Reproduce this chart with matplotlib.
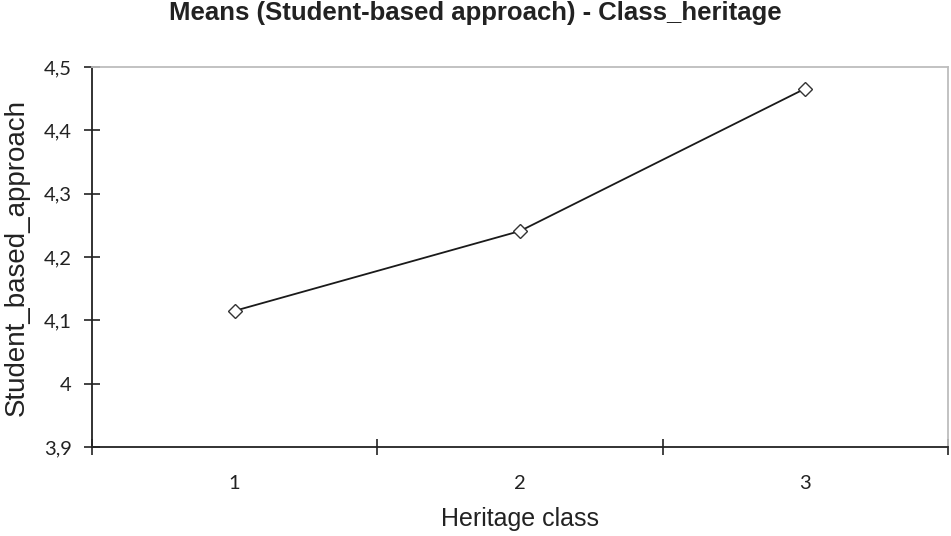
import matplotlib
matplotlib.use("Agg")
import matplotlib.pyplot as plt
from matplotlib.ticker import FuncFormatter, FixedLocator, NullFormatter

categories = ["1", "2", "3"]
means = [4.115, 4.241, 4.466]
yticks = [3.9, 4.0, 4.1, 4.2, 4.3, 4.4, 4.5]

W, H = 951, 536
fig = plt.figure(figsize=(W/100, H/100), dpi=100)
ax = fig.add_axes([92/W, 1-447/H, (948-92)/W, (447-67)/H])

x = list(range(1, len(categories)+1))
ax.plot(x, means, color="#1a1a1a", lw=1.3, marker="D", ms=7.4,
        mfc="white", mec="#333333", mew=1.0, zorder=3, clip_on=False)

ax.set_xlim(0.5, len(categories)+0.5)
ax.set_ylim(3.9, 4.5)
ax.set_yticks(yticks)
ax.yaxis.set_major_formatter(FuncFormatter(lambda v, p: ("%g" % round(v, 1)).replace(".", ",")))

# category ticks between categories, labels at centers
ax.xaxis.set_major_locator(FixedLocator([i + 0.5 for i in range(0, len(categories)+1)]))
ax.xaxis.set_major_formatter(NullFormatter())
ax.xaxis.set_minor_locator(FixedLocator(x))
ax.set_xticks(x, categories, minor=True)

tickfont = ["Lato", "DejaVu Sans"]
ax.tick_params(axis="both", which="major", direction="inout", length=11, width=1.2, color="#222222")
ax.tick_params(axis="x", which="minor", length=0, pad=20, labelsize=14.5, labelcolor="#222222")
ax.tick_params(axis="y", which="major", pad=9, labelsize=14.5, labelcolor="#222222")
for lab in ax.get_xticklabels(minor=True) + ax.get_yticklabels():
    lab.set_family(tickfont)

for s in ["left", "bottom"]:
    ax.spines[s].set_color("#222222")
    ax.spines[s].set_linewidth(1.3)
for s in ["top", "right"]:
    ax.spines[s].set_color("#bdbdbd")
    ax.spines[s].set_linewidth(1.3)

lblfont = ["Liberation Sans", "DejaVu Sans"]
ax.set_xlabel("Heritage class", fontsize=18, family=lblfont, color="#222222")
ax.set_ylabel("Student_based_approach", fontsize=20, family=lblfont, color="#222222")
ax.xaxis.set_label_coords(0.5, (447-507)/380)
ax.yaxis.set_label_coords((30-92)/856, 0.5)

fig.text(0.5, 1-20/H, "Means (Student-based approach) - Class_heritage", ha="center", va="baseline",
         fontsize=18.5, fontweight="bold", family=["Liberation Sans", "DejaVu Sans"],
         color="#222222")

fig.savefig("out.png", dpi=100)
